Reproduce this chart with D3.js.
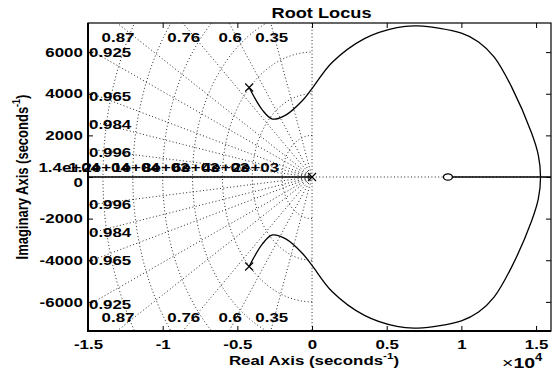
<!DOCTYPE html>
<html>
<head>
<meta charset="utf-8">
<script src="https://cdnjs.cloudflare.com/ajax/libs/d3/7.8.5/d3.min.js"></script>
<style>
  body { margin: 0; background: #fff; }
  text { font-family: "Liberation Sans", Arial, sans-serif; font-weight: bold; font-size: 13px; fill: #000; }
</style>
</head>
<body>
<script>
// Root locus chart (MATLAB style, with s-plane grid)

// Axis ticks
var xTicks = [-15000, -10000, -5000, 0, 5000, 10000, 15000];
var xTickLabels = ["-1.5", "-1", "-0.5", "0", "0.5", "1", "1.5"];
var yTicks = [-6000, -4000, -2000, 0, 2000, 4000, 6000];
var yTickLabels = ["-6000", "-4000", "-2000", "0", "2000", "4000", "6000"];

// Upper branch of the locus, pole -> break-in point (lower branch is the mirror)
var locusRe = [-4210, -3320, -2650, -1760, -670, 0, 1340, 3510, 5680, 7080, 10000, 11150, 12200, 13360, 14700, 15150, 15300];
var locusIm = [4300, 3215, 2784, 2975, 3650, 4250, 5500, 6650, 7180, 7260, 6910, 6490, 5760, 4330, 2110, 1050, 0];

// Locus parts lying on the real axis
var realStart = [-15000, 9000];
var realEnd = [0, 16000];

// Poles (x) and zeros (o)
var poleRe = [-4210, -4210, 0];
var poleIm = [4300, -4300, 0];
var zeroRe = [9100];
var zeroIm = [0];

// Grid: damping ratios and natural frequencies
var zetaVals = [0.35, 0.6, 0.76, 0.87, 0.925, 0.965, 0.984, 0.996];
var zetaLabels = ["0.35", "0.6", "0.76", "0.87", "0.925", "0.965", "0.984", "0.996"];
var wnVals = [14000, 12000, 10000, 8000, 6000, 4000, 2000];
var wnLabels = ["1.4e+04", "1.2e+04", "1e+04", "8e+03", "6e+03", "4e+03", "2e+03"];

var svgWidth = 552;
var svgHeight = 372;
var margin = { top: 23, right: 1, bottom: 41, left: 88 };
var chartWidth = svgWidth - margin.left - margin.right;
var chartHeight = svgHeight - margin.top - margin.bottom;
var SX = 1.3; // the picture is stretched sideways, so is its text

var svg = d3.select("body").append("svg")
  .attr("width", svgWidth)
  .attr("height", svgHeight);

var chartGroup = svg.append("g")
  .attr("transform", `translate(${margin.left}, ${margin.top})`);

var x = d3.scaleLinear().domain([-15000, 16000]).range([0, chartWidth]);
var y = d3.scaleLinear().domain([-7400, 7400]).range([chartHeight, 0]);

svg.append("clipPath").attr("id", "plotclip")
  .append("rect")
  .attr("width", chartWidth)
  .attr("height", chartHeight);

var plot = chartGroup.append("g").attr("clip-path", "url(#plotclip)");

function dotted(sel) {
  sel.attr("fill", "none")
    .attr("stroke", "#111")
    .attr("stroke-width", 0.9)
    .attr("stroke-dasharray", "1 2.4");
}

// grid: damping rays (both halves), plus the two axes lines
var far = 60000;
zetaVals.forEach(function (z) {
  var s = Math.sqrt(1 - z * z);
  [1, -1].forEach(function (sign) {
    plot.append("line")
      .attr("x1", x(0)).attr("y1", y(0))
      .attr("x2", x(-z * far)).attr("y2", y(sign * s * far))
      .call(dotted);
  });
});
plot.append("line")
  .attr("x1", x(0)).attr("x2", x(0))
  .attr("y1", 0).attr("y2", chartHeight)
  .call(dotted);
plot.append("line")
  .attr("x1", 0).attr("x2", chartWidth)
  .attr("y1", y(0)).attr("y2", y(0))
  .call(dotted);

// grid: natural frequency arcs
var arcLine = d3.line().x(d => x(d[0])).y(d => y(d[1]));
wnVals.forEach(function (wn) {
  var pts = d3.range(-90, 90.5, 2).map(function (a) {
    var r = a * Math.PI / 180;
    return [-wn * Math.cos(r), wn * Math.sin(r)];
  });
  plot.append("path").attr("d", arcLine(pts)).call(dotted);
});

// locus curve: upper branch, then the mirrored lower branch back to its pole
var upper = locusRe.map((d, i) => [d, locusIm[i]]);
var lower = upper.slice(0, -1).map(d => [d[0], -d[1]]).reverse();
var drawLine = d3.line()
  .x(d => x(d[0]))
  .y(d => y(d[1]))
  .curve(d3.curveCatmullRom.alpha(0.5));

plot.append("path")
  .attr("d", drawLine(upper.concat(lower)))
  .attr("fill", "none")
  .attr("stroke", "#000")
  .attr("stroke-width", 1.3);

realStart.forEach(function (d, i) {
  plot.append("line")
    .attr("x1", x(d)).attr("x2", x(realEnd[i]))
    .attr("y1", y(0)).attr("y2", y(0))
    .attr("stroke", "#000")
    .attr("stroke-width", 1.4);
});

// poles
poleRe.forEach(function (d, i) {
  var px = x(d), py = y(poleIm[i]), k = 4;
  plot.append("path")
    .attr("d", `M${px - k},${py - k}L${px + k},${py + k}M${px - k},${py + k}L${px + k},${py - k}`)
    .attr("stroke", "#000")
    .attr("stroke-width", 1.1);
});

// zeros
zeroRe.forEach(function (d, i) {
  plot.append("ellipse")
    .attr("cx", x(d)).attr("cy", y(zeroIm[i]))
    .attr("rx", 4.5).attr("ry", 3.2)
    .attr("fill", "#fff")
    .attr("stroke", "#000")
    .attr("stroke-width", 1.3);
});

// damping ratio labels, where each ray leaves the box
function sText(g, px, py, str, anchor) {
  return g.append("text")
    .attr("transform", `translate(${px},${py}) scale(${SX},1)`)
    .attr("text-anchor", anchor)
    .text(str);
}

zetaVals.forEach(function (z, i) {
  var s = Math.sqrt(1 - z * z);
  var xTop = -z / s * 7400;
  if (xTop >= -15000) {
    sText(chartGroup, x(xTop) + 1, 19, zetaLabels[i], "middle");
    sText(chartGroup, x(xTop) + 1, chartHeight - 9, zetaLabels[i], "middle");
  } else {
    var yL = s / z * 15000;
    sText(chartGroup, 1, y(yL) + 8.5, zetaLabels[i], "start");
    sText(chartGroup, 1, y(-yL) + 3.5, zetaLabels[i], "start");
  }
});

// axes with inward ticks on all four sides
var bottomAxis = d3.axisBottom(x).tickValues(xTicks)
  .tickFormat((d, i) => xTickLabels[i])
  .tickSizeInner(-5).tickSizeOuter(0).tickPadding(9);
var leftAxis = d3.axisLeft(y).tickValues(yTicks)
  .tickFormat((d, i) => yTickLabels[i])
  .tickSizeInner(-5).tickSizeOuter(0).tickPadding(4);

var gx = chartGroup.append("g")
  .attr("transform", `translate(0, ${chartHeight})`)
  .call(bottomAxis);
var gy = chartGroup.append("g").call(leftAxis);
chartGroup.append("g").call(d3.axisTop(x).tickValues(xTicks).tickFormat("").tickSizeInner(-5).tickSizeOuter(0));
chartGroup.append("g")
  .attr("transform", `translate(${chartWidth}, 0)`)
  .call(d3.axisRight(y).tickValues(yTicks).tickFormat("").tickSizeInner(-5).tickSizeOuter(0));

chartGroup.selectAll(".domain").remove();
gx.selectAll("text").attr("transform", `scale(${SX},1)`);
gy.selectAll("text").attr("transform", `scale(${SX},1)`);
// the "0" label sits a little below its tick, under the frequency labels
gy.selectAll("text").filter(d => d === 0).attr("dy", "0.75em");

// natural frequency labels along the negative real axis
wnVals.forEach(function (wn, i) {
  sText(chartGroup, x(-wn) - 3, y(0) - 5, wnLabels[i], "end");
});

// box
chartGroup.append("rect")
  .attr("width", chartWidth)
  .attr("height", chartHeight)
  .attr("fill", "none")
  .attr("stroke", "#000")
  .attr("stroke-width", 1.2);
chartGroup.append("path")
  .attr("d", `M0,0V${chartHeight}H${chartWidth}`)
  .attr("fill", "none")
  .attr("stroke", "#000")
  .attr("stroke-width", 2);

// title and axis labels
svg.append("text")
  .attr("transform", `translate(${margin.left + chartWidth / 2 + 2}, 18) scale(${SX},1)`)
  .attr("text-anchor", "middle")
  .style("font-size", "14px")
  .text("Root Locus");

var xl = svg.append("text")
  .attr("transform", `translate(314, 365) scale(${SX},1)`)
  .attr("text-anchor", "middle");
xl.append("tspan").text("Real Axis (seconds");
xl.append("tspan").attr("dy", -6).style("font-size", "9px").text("-1");
xl.append("tspan").attr("dy", 6).text(")");

var yl = svg.append("text")
  .attr("transform", `translate(28, ${margin.top + chartHeight / 2}) rotate(-90) scale(1,${SX})`)
  .attr("text-anchor", "middle");
yl.append("tspan").text("Imaginary Axis (seconds");
yl.append("tspan").attr("dy", -6).style("font-size", "9px").text("-1");
yl.append("tspan").attr("dy", 6).text(")");

var ex = svg.append("text")
  .attr("transform", `translate(502, 368) scale(${SX},1)`)
  .style("font-size", "15px");
ex.append("tspan").style("font-weight", "normal").text("\u00d7");
ex.append("tspan").text("10");
ex.append("tspan").attr("dy", -7).style("font-size", "10px").text("4");
</script>
</body>
</html>
